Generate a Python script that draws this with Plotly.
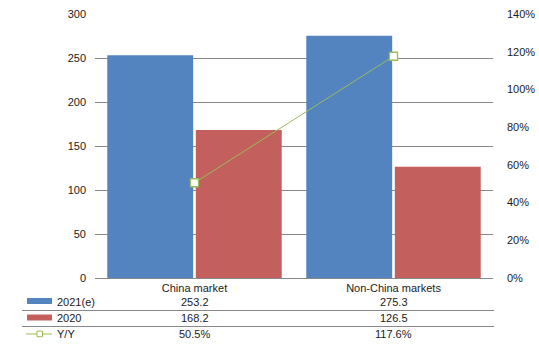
import plotly.graph_objects as go

categories = ["China market", "Non-China markets"]
series_names = ["2021(e)", "2020", "Y/Y"]
v2021 = [253.2, 275.3]
v2020 = [168.2, 126.5]
yoy = [0.505, 1.176]

BLUE = "#5384C0"
RED = "#C35F5C"
GREEN = "#9BBB59"
GRID = "#888888"
TXT = "#1a1a1a"
FONT = "Liberation Sans, Arial, sans-serif"

W, H = 539, 350
L, R, T, B = 95, 46, 14, 72
PW, PH = W - L - R, H - T - B

def px(x):
    return (x - L) / PW

def py(y):
    return (H - B - y) / PH

fig = go.Figure()
fig.add_bar(x=categories, y=v2021, name=series_names[0], marker_color=BLUE, marker_line_width=0)
fig.add_bar(x=categories, y=v2020, name=series_names[1], marker_color=RED, marker_line_width=0)
fig.add_scatter(x=categories, y=yoy, name=series_names[2], yaxis="y2", mode="lines+markers",
                line=dict(color=GREEN, width=1),
                marker=dict(symbol="square", size=8, color="white", line=dict(color=GREEN, width=1.3)))

shapes = []
annotations = []
for ypx in (310.5, 326.5):
    shapes.append(dict(type="line", xref="paper", yref="paper", x0=px(22), x1=px(494),
                       y0=py(ypx), y1=py(ypx), line=dict(color=GRID, width=1)))
shapes.append(dict(type="rect", xref="paper", yref="paper", x0=px(27), x1=px(52),
                   y0=py(304), y1=py(298), fillcolor=BLUE, line_width=0))
shapes.append(dict(type="rect", xref="paper", yref="paper", x0=px(27), x1=px(52),
                   y0=py(320.5), y1=py(314.5), fillcolor=RED, line_width=0))
shapes.append(dict(type="line", xref="paper", yref="paper", x0=px(26), x1=px(52),
                   y0=py(334), y1=py(334), line=dict(color=GREEN, width=1)))
shapes.append(dict(type="rect", xref="paper", yref="paper", x0=px(37), x1=px(42.5),
                   y0=py(336.7), y1=py(331.2), fillcolor="white", line=dict(color=GREEN, width=1)))

rows = [(series_names[0], v2021, "{:.1f}", 302), (series_names[1], v2020, "{:.1f}", 318),
        (series_names[2], [v * 100 for v in yoy], "{:.1f}%", 334)]
for name, vals, fmt, ypx in rows:
    annotations.append(dict(text=name, xref="paper", yref="paper", x=px(55), y=py(ypx),
                            xanchor="left", yanchor="middle", showarrow=False,
                            font=dict(size=11, color=TXT, family=FONT)))
    for c, v in zip(categories, vals):
        annotations.append(dict(text=fmt.format(v), xref="x", yref="paper", x=c, y=py(ypx),
                                xanchor="center", yanchor="middle", showarrow=False,
                                font=dict(size=11, color=TXT, family=FONT)))

fig.update_layout(
    width=W, height=H,
    margin=dict(l=L, r=R, t=T, b=B, autoexpand=False),
    paper_bgcolor="white", plot_bgcolor="white",
    showlegend=False,
    barmode="group", bargap=0.11, bargroupgap=0.03,
    font=dict(family=FONT, size=11, color=TXT),
    xaxis=dict(showgrid=False, showline=True, linecolor=GRID, linewidth=1, ticks="",
               zeroline=False, mirror=False,
               tickfont=dict(size=11, color=TXT), ticklabelstandoff=0, automargin=False),
    yaxis=dict(range=[0, 300], dtick=50, showgrid=True, gridcolor=GRID, gridwidth=1,
               zeroline=False, showline=False, mirror=False, ticks="", tickfont=dict(size=11, color=TXT),
               ticklabelstandoff=8, automargin=False),
    yaxis2=dict(range=[0, 1.4], dtick=0.2, tickformat=".0%", overlaying="y", side="right",
                showgrid=False, zeroline=False, showline=False, mirror=False, ticks="",
                tickfont=dict(size=11, color=TXT), ticklabelstandoff=13, automargin=False),
    shapes=shapes, annotations=annotations,
)
fig.write_html("out.html")
